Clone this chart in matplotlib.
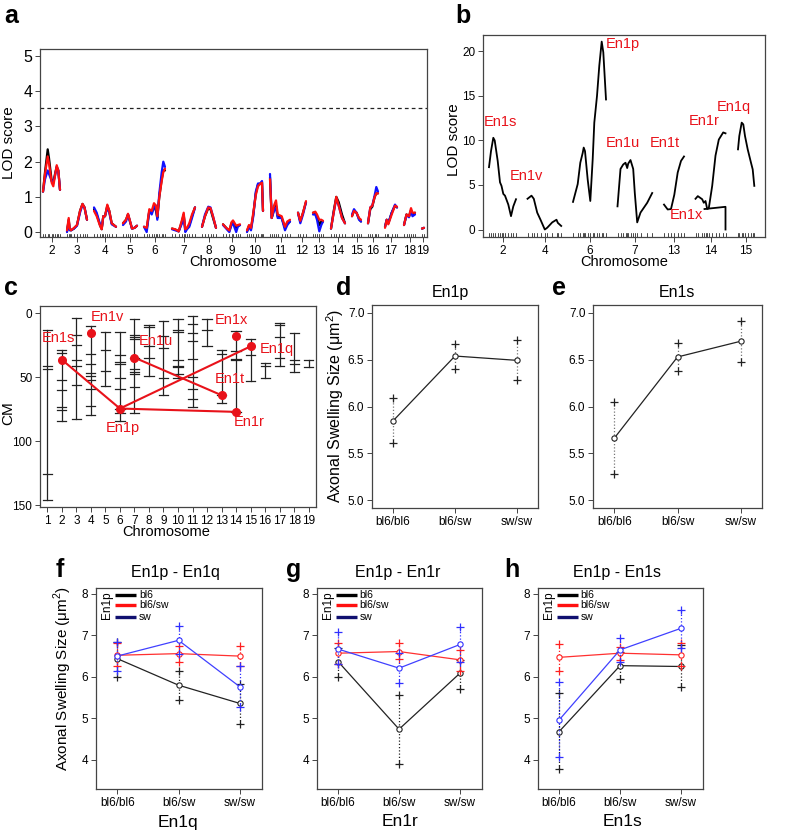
import matplotlib
matplotlib.use('Agg')
import matplotlib.pyplot as plt
import matplotlib.transforms as mtransforms
import numpy as np

plt.rcParams['font.family'] = ['Liberation Sans', 'DejaVu Sans']
plt.rcParams['mathtext.fontset'] = 'custom'
plt.rcParams['mathtext.rm'] = 'Liberation Sans'

# ---------------- DATA ----------------
# Panel a: genome scan (three models)
a_chroms = ['2', '3', '4', '5', '6', '7', '8', '9', '10', '11', '12', '13', '14', '15', '16', '17', '18', '19']
a_len = [17, 20, 22, 14, 21, 23, 14, 17, 16, 21, 8, 11, 14, 9, 10, 12, 11, 2]
a_pos = [
    [0, 2, 4.7, 6, 8.7, 10.3, 12, 13.7, 15.3, 17],
    [0, 1.7, 2.7, 4, 7, 10, 13, 15.5, 17.5, 20],
    [0, 2.7, 6, 7.7, 9.3, 11, 13.3, 15.3, 17.7, 22],
    [0, 3, 5, 7, 9, 11.5, 14],
    [0, 2.7, 5.3, 7.7, 10, 12, 13.3, 15.3, 17.7, 19.3, 21],
    [0, 3.3, 6.7, 10, 11.7, 13.3, 15, 17.3, 20, 23],
    [0, 3, 6.3, 8.5, 11, 14],
    [0, 3.2, 6.3, 8.5, 10, 13.2, 14.8, 17],
    [0, 2, 4, 6.3, 8.8, 11, 13.5, 15, 16],
    [0, 1.7, 4, 6, 7.7, 11.7, 15, 17.3, 20],
    [0, 2.3, 5, 8],
    [0, 2.3, 4, 6.3, 8.3, 10],
    [0, 2.7, 5.3, 7.7, 11, 14],
    [0, 2, 4.5, 7, 9],
    [0, 2.3, 4.3, 6.7, 8.3, 10],
    [0, 1.7, 3.3, 6.7, 10, 12],
    [0, 2.5, 5, 7, 8.5, 11],
    [0, 2],
]
a_lod_black = [
    [1.15, 1.7, 2.35, 2.1, 1.45, 1.4, 1.65, 1.85, 1.75, 1.2],
    [0.02, 0.35, 0.1, 0.05, 0.1, 0.2, 0.6, 0.8, 0.7, 0.35],
    [0.65, 0.5, 0.2, 0.08, 0.45, 0.45, 0.75, 0.6, 0.25, 0.15],
    [0.25, 0.35, 0.5, 0.3, 0.1, 0.12, 0.18],
    [0.15, 0.08, 0.6, 0.55, 0.75, 0.6, 0.4, 1.0, 1.5, 1.75, 1.75],
    [0.1, 0.07, 0.02, 0.3, 0.5, 0.05, 0.1, 0.2, 0.45, 0.7],
    [0.15, 0.45, 0.68, 0.65, 0.4, 0.12],
    [0.22, 0.12, 0.03, 0.25, 0.3, 0.12, 0.18, 0.2],
    [0.02, 0.18, 0.1, 0.5, 1.1, 1.35, 1.38, 1.42, 0.6],
    [1.55, 0.4, 0.65, 0.75, 0.45, 0.4, 0.12, 0.25, 0.3],
    [0.55, 0.3, 0.55, 0.85],
    [0.55, 0.55, 0.45, 0.2, 0.3, 0.3],
    [0.1, 0.6, 1.0, 0.85, 0.5, 0.25],
    [0.45, 0.6, 0.55, 0.38, 0.3],
    [0.25, 0.65, 0.72, 1.0, 1.1, 1.1],
    [0.15, 0.35, 0.25, 0.55, 0.75, 0.7],
    [0.2, 0.5, 0.45, 0.62, 0.5, 0.55],
    [0.1, 0.12],
]
a_lod_blue = [
    [1.15, 1.5, 1.75, 1.65, 1.45, 1.4, 1.6, 1.85, 1.75, 1.2],
    [0.0, 0.3, 0.05, 0.05, 0.1, 0.18, 0.55, 0.78, 0.7, 0.35],
    [0.7, 0.55, 0.22, 0.1, 0.45, 0.45, 0.7, 0.55, 0.22, 0.15],
    [0.2, 0.3, 0.5, 0.3, 0.1, 0.12, 0.18],
    [0.15, 0.0, 0.6, 0.5, 0.7, 0.75, 0.35, 1.1, 1.7, 2.0, 1.85],
    [0.08, 0.05, 0.02, 0.25, 0.45, 0.0, 0.08, 0.15, 0.4, 0.7],
    [0.15, 0.5, 0.72, 0.7, 0.45, 0.12],
    [0.2, 0.1, 0.0, 0.2, 0.25, 0.0, 0.15, 0.2],
    [0.0, 0.15, 0.05, 0.45, 1.15, 1.38, 1.38, 1.45, 0.6],
    [1.65, 0.4, 0.6, 0.7, 0.4, 0.4, 0.05, 0.2, 0.3],
    [0.55, 0.25, 0.5, 0.85],
    [0.5, 0.5, 0.35, 0.02, 0.2, 0.3],
    [0.1, 0.55, 0.95, 0.75, 0.4, 0.25],
    [0.5, 0.65, 0.55, 0.35, 0.3],
    [0.25, 0.7, 0.75, 1.05, 1.28, 1.15],
    [0.15, 0.35, 0.25, 0.55, 0.78, 0.7],
    [0.2, 0.48, 0.42, 0.6, 0.45, 0.5],
    [0.1, 0.12],
]
a_lod_red = [
    [1.15, 1.65, 2.15, 1.95, 1.4, 1.3, 1.6, 1.9, 1.75, 1.2],
    [0.05, 0.4, 0.1, 0.05, 0.12, 0.2, 0.6, 0.8, 0.7, 0.35],
    [0.6, 0.45, 0.18, 0.08, 0.45, 0.45, 0.78, 0.6, 0.25, 0.15],
    [0.25, 0.35, 0.52, 0.32, 0.1, 0.12, 0.18],
    [0.15, 0.12, 0.65, 0.6, 0.82, 0.75, 0.45, 1.0, 1.45, 1.7, 1.8],
    [0.1, 0.08, 0.02, 0.35, 0.55, 0.08, 0.12, 0.25, 0.5, 0.7],
    [0.15, 0.45, 0.7, 0.68, 0.45, 0.12],
    [0.22, 0.12, 0.05, 0.28, 0.33, 0.18, 0.2, 0.22],
    [0.05, 0.2, 0.12, 0.55, 1.05, 1.3, 1.38, 1.4, 0.6],
    [1.5, 0.4, 0.75, 0.9, 0.5, 0.45, 0.15, 0.3, 0.35],
    [0.55, 0.32, 0.55, 0.88],
    [0.55, 0.58, 0.5, 0.35, 0.35, 0.32],
    [0.1, 0.55, 1.0, 0.75, 0.4, 0.25],
    [0.45, 0.6, 0.55, 0.4, 0.35],
    [0.25, 0.7, 0.75, 1.0, 1.1, 1.1],
    [0.12, 0.35, 0.22, 0.5, 0.75, 0.72],
    [0.2, 0.5, 0.45, 0.68, 0.55, 0.55],
    [0.1, 0.12],
]
a_threshold = 3.53

# Panel b: conditional scans on selected chromosomes
b_chroms = ['2', '4', '6', '7', '13', '14', '15']
b_len = [27, 34, 33, 35, 20, 31, 16]
b_pos = [
    [0, 2, 4.3, 5.7, 8.7, 11, 12.5, 14.3, 16, 19.3, 22, 24.3, 27],
    [0, 4, 6.3, 9.7, 13, 17.3, 19.7, 24.7, 29, 30.3, 33.7],
    [0, 4.7, 7.3, 9.7, 10.7, 12, 14.7, 17.3, 19.7, 21.3, 24, 26.3, 28.7, 30.3, 33],
    [0, 3, 5.7, 8, 9.7, 10.7, 13, 15.7, 17.3, 19.7, 23, 29.7, 34.7],
    [0, 3.7, 7, 10.3, 13.7, 17, 20],
    [0, 2.3, 6.7, 8.3, 10, 11.7, 13.3, 16.7, 20, 23.3, 27.7, 30],
    [0, 1.3, 3.7, 5.3, 7, 9.7, 13, 14.7, 16.3],
]
b_lod = [
    [7.0, 8.8, 10.3, 10.0, 7.7, 5.3, 4.9, 4.0, 3.8, 2.8, 1.5, 2.6, 3.4],
    [3.45, 3.8, 3.45, 1.9, 1.1, 0.0, 0.2, 0.8, 1.1, 0.75, 0.4],
    [3.1, 5.1, 7.5, 8.6, 9.2, 8.8, 5.6, 3.2, 7.9, 12.0, 15.0, 18.4, 21.1, 19.9, 14.6],
    [2.6, 6.8, 7.3, 7.5, 6.9, 7.4, 7.8, 6.8, 4.1, 0.8, 1.9, 3.0, 4.1],
    [2.8, 2.25, 2.3, 3.9, 6.4, 7.7, 8.2],
    [3.45, 3.75, 3.4, 3.0, 3.2, 2.3, 2.4, 4.9, 8.3, 10.1, 10.9, 10.8],
    [9.0, 10.5, 12.0, 11.8, 10.5, 9.0, 7.5, 6.75, 4.9],
]
b_chr14_tail_pos = [9, 30, 30]
b_chr14_tail_lod = [2.3, 2.55, 0.0]
b_qtl_names = ['En1s', 'En1v', 'En1p', 'En1u', 'En1t', 'En1r', 'En1q', 'En1x']
b_qtl_xy = [(0.5, 12.1), (27, 6.0), (123, 20.8), (123, 9.7), (167, 9.7), (206, 12.2), (234, 13.8), (187, 1.6)]

# Panel c: marker intervals per chromosome (cM) and QTL positions
c_markers = [
    [13, 41, 44, 126, 146],
    [29, 31, 52.5, 60, 73, 76, 84.5],
    [4, 17, 25, 37, 41, 56, 83],
    [10, 32, 39.5, 47, 49.5, 52.5, 59.5, 72.5, 80],
    [15, 29, 45.5, 57],
    [15, 33, 38, 39.5, 50.5, 59, 74.6, 78, 84],
    [5, 17.5, 19, 20.5, 34.8, 44, 46, 47.5, 58, 78],
    [9, 11, 26, 35, 49],
    [6, 18, 27, 50.5, 64],
    [4.5, 13.5, 15, 36.5, 41.5, 42, 47.5, 51],
    [2, 8.5, 15.5, 22, 36, 50, 59, 67.5, 73],
    [5, 13.5, 25.5],
    [28.5, 32, 64.2, 70],
    [14, 30, 35.6, 36.4, 77.5],
    [20, 32.5, 53.3],
    [39, 41.5, 50.5],
    [7.5, 9.5, 18.7, 35, 41.5],
    [15.5, 36.5, 39.5, 46],
    [37, 42],
]
c_qtl_names = ['En1s', 'En1v', 'En1p', 'En1u', 'En1t', 'En1x', 'En1r', 'En1q']
c_qtl_chr = [2, 4, 6, 7, 13, 14, 14, 15]
c_qtl_cm = [36.4, 15.6, 74.6, 34.8, 64.2, 18.2, 77.2, 26.0]
c_links = [('En1s', 'En1p'), ('En1p', 'En1q'), ('En1p', 'En1r'), ('En1u', 'En1t')]
c_label_xy = {'En1s': (0.6, 19.5), 'En1v': (4.0, 3.1), 'En1p': (5.0, 89.8), 'En1u': (7.3, 21.9),
              'En1t': (12.5, 51.6), 'En1x': (12.5, 5.5), 'En1r': (13.85, 85.2), 'En1q': (15.6, 28.1)}

# Panels d, e: single-locus effects
genotypes = ['bl6/bl6', 'bl6/sw', 'sw/sw']
d_mean = [5.847, 6.537, 6.491]
d_upper = [6.089, 6.669, 6.705]
d_lower = [5.612, 6.399, 6.278]
e_mean = [5.665, 6.527, 6.694]
e_upper = [6.043, 6.676, 6.911]
e_lower = [5.281, 6.374, 6.473]

# Panels f, g, h: two-locus interactions (lines = En1p genotype)
en1p_groups = ['bl6', 'bl6/sw', 'sw']
f_mean = {'bl6': [6.44, 5.80, 5.36], 'bl6/sw': [6.52, 6.56, 6.50], 'sw': [6.50, 6.88, 5.76]}
f_upper = {'bl6': [6.85, 6.14, 5.84], 'bl6/sw': [6.82, 6.74, 6.74], 'sw': [6.84, 7.22, 6.26]}
f_lower = {'bl6': [6.00, 5.44, 4.86], 'bl6/sw': [6.26, 6.36, 6.26], 'sw': [6.14, 6.56, 5.28]}
g_mean = {'bl6': [6.37, 4.74, 6.09], 'bl6/sw': [6.57, 6.61, 6.41], 'sw': [6.67, 6.21, 6.78]}
g_upper = {'bl6': [6.70, 5.56, 6.41], 'bl6/sw': [6.82, 6.81, 6.65], 'sw': [7.08, 6.57, 7.21]}
g_lower = {'bl6': [6.00, 3.90, 5.72], 'bl6/sw': [6.30, 6.42, 6.13], 'sw': [6.30, 5.85, 6.37]}
h_mean = {'bl6': [4.68, 6.27, 6.25], 'bl6/sw': [6.47, 6.57, 6.53], 'sw': [4.96, 6.65, 7.17]}
h_upper = {'bl6': [5.60, 6.60, 6.77], 'bl6/sw': [6.78, 6.73, 6.82], 'sw': [5.87, 6.93, 7.62]}
h_lower = {'bl6': [3.78, 5.94, 5.76], 'bl6/sw': [6.15, 6.40, 6.25], 'sw': [4.06, 6.37, 6.69]}

# ---------------- FIGURE ----------------
W, H = 787, 832
fig = plt.figure(figsize=(W / 100, H / 100), dpi=100)
SP = '#444444'
RED = '#E8121A'


def add_ax(l, t, r, b):
    ax = fig.add_axes([l / W, 1 - b / H, (r - l) / W, (b - t) / H])
    for s in ax.spines.values():
        s.set_color(SP)
        s.set_linewidth(0.9)
    ax.tick_params(length=3.5, width=0.7, color=SP, pad=2)
    return ax


def ftext(x, y, s, **kw):
    fig.text(x / W, 1 - y / H, s, **kw)


def letter(x, y, s):
    ftext(x, y, s, fontsize=18, fontweight='bold', ha='left', va='baseline')


ylab_swell = 'Axonal Swelling Size (\u03bcm$^2$)'

# ---- panel a ----
ax = add_ax(40, 49, 427, 237)
off = 3.0
centers = []
rug = []
for i, ch in enumerate(a_chroms):
    x = off + np.array(a_pos[i])
    ax.plot(x, a_lod_black[i], color='black', lw=1.6, solid_capstyle='round')
    ax.plot(x, a_lod_blue[i], color='#1010FF', lw=1.6, solid_capstyle='round')
    ax.plot(x, a_lod_red[i], color='#FF1010', lw=1.6, solid_capstyle='round')
    rug.extend(list(x))
    centers.append(off + a_len[i] / 2)
    off += a_len[i] + 7
trans = mtransforms.blended_transform_factory(ax.transData, ax.transAxes)
for rx in rug:
    ax.plot([rx, rx], [0, 0.018], color='black', lw=0.5, transform=trans)
ax.axhline(a_threshold, color='#222222', lw=0.9, ls=(0, (3, 2.5)))
ax.set_xlim(0, 387)
ax.set_ylim(-0.14, 5.2)
ax.set_yticks([0, 1, 2, 3, 4, 5])
ax.tick_params(axis='y', labelsize=11.5)
ax.set_xticks(centers)
ax.set_xticklabels(a_chroms, fontsize=8.5)
ftext(9, 143, 'LOD score', rotation=90, ha='center', va='center', fontsize=11)
ftext(233, 262, 'Chromosome', ha='center', va='center', fontsize=10.5)
letter(4, 23, 'a')

# ---- panel b ----
ax = add_ax(483, 35, 765, 237)
off = 6.0
centers = []
rug = []
for i, ch in enumerate(b_chroms):
    x = off + np.array(b_pos[i])
    ax.plot(x, b_lod[i], color='black', lw=1.3)
    if ch == '14':
        ax.plot(off + np.array(b_chr14_tail_pos), b_chr14_tail_lod, color='black', lw=1.3)
    rug.extend(list(x))
    centers.append(off + b_len[i] / 2)
    off += b_len[i] + 11.5
trans = mtransforms.blended_transform_factory(ax.transData, ax.transAxes)
for rx in rug:
    ax.plot([rx, rx], [0, 0.02], color='black', lw=0.5, transform=trans)
for name, (tx, ty) in zip(b_qtl_names, b_qtl_xy):
    ax.text(tx, ty, name, color=RED, fontsize=10.5, ha='left', va='center')
ax.set_xlim(0, 282)
ax.set_ylim(-0.84, 21.84)
ax.set_yticks([0, 5, 10, 15, 20])
ax.tick_params(axis='y', labelsize=8.5)
ax.set_xticks(centers)
ax.set_xticklabels(b_chroms, fontsize=8.5)
ftext(454, 140, 'LOD score', rotation=90, ha='center', va='center', fontsize=11)
ftext(624, 262, 'Chromosome', ha='center', va='center', fontsize=10.5)
letter(455, 23, 'b')

# ---- panel c ----
ax = add_ax(40, 306, 316, 507)
for i, m in enumerate(c_markers):
    chn = i + 1
    ax.plot([chn, chn], [min(m), max(m)], color='#222222', lw=0.9)
    for v in m:
        ax.plot([chn - 0.32, chn + 0.32], [v, v], color='#222222', lw=0.9)
qmap = {n: (c, v) for n, c, v in zip(c_qtl_names, c_qtl_chr, c_qtl_cm)}
for a1, a2 in c_links:
    ax.plot([qmap[a1][0], qmap[a2][0]], [qmap[a1][1], qmap[a2][1]], color=RED, lw=1.5)
ax.plot(c_qtl_chr, c_qtl_cm, 'o', color=RED, ms=5.5, ls='none')
for n in c_qtl_names:
    tx, ty = c_label_xy[n]
    ax.text(tx, ty, n, color=RED, fontsize=10.5, ha='left', va='center')
ax.set_xlim(0.5, 19.5)
ax.set_ylim(151.5, -5.5)
ax.set_yticks([0, 50, 100, 150])
ax.set_xticks(range(1, 20))
ax.tick_params(labelsize=8.5)
ftext(8, 413, 'CM', rotation=90, ha='center', va='center', fontsize=11)
ftext(166, 532, 'Chromosome', ha='center', va='center', fontsize=10.5)
letter(4, 295, 'c')


def means_plot(ax, mean, up, low, color, lcolor, lw=0.9, dot='#777777'):
    x = np.arange(1, len(mean) + 1)
    for xi, u, l in zip(x, up, low):
        ax.plot([xi, xi], [l, u], ls=(0, (1, 1.6)), color=dot, lw=0.9)
    ax.plot(x, up, '+', color=color, ms=6, mew=0.9, ls='none')
    ax.plot(x, low, '+', color=color, ms=6, mew=0.9, ls='none')
    ax.plot(x, mean, '-', color=lcolor, lw=lw, marker='o', ms=3.8,
            mfc='white', mec=color, mew=0.8)


# ---- panels d, e ----
for (l, r, mean, up, low, title, tx, let, lx) in [
        (372, 538, d_mean, d_upper, d_lower, 'En1p', 450, 'd', 336),
        (593, 762, e_mean, e_upper, e_lower, 'En1s', 677, 'e', 552)]:
    ax = add_ax(l, 305, r, 508)
    means_plot(ax, mean, up, low, '#222222', '#222222')
    ax.set_xlim(0.66, 3.34)
    ax.set_ylim(4.92, 7.08)
    ax.set_yticks([5.0, 5.5, 6.0, 6.5, 7.0])
    ax.set_yticklabels(['5.0', '5.5', '6.0', '6.5', '7.0'])
    ax.set_xticks([1, 2, 3])
    ax.set_xticklabels(genotypes)
    ax.tick_params(labelsize=8.5)
    ftext(tx, 297, title, ha='center', va='baseline', fontsize=11.5)
    letter(lx, 295, let)
ftext(335, 406, ylab_swell, rotation=90, ha='center', va='center', fontsize=11.5)

# ---- panels f, g, h ----
cols = {'bl6': ('#222222', '#222222'), 'bl6/sw': ('#FF2020', '#FF3030'), 'sw': ('#3030FF', '#4040FF')}
leg_cols = {'bl6': 'black', 'bl6/sw': '#FF1010', 'sw': '#101070'}
panels = [
    (96, 262, f_mean, f_upper, f_lower, 'En1p - En1q', 175, 'En1q', 178, 'f', 56),
    (317, 482, g_mean, g_upper, g_lower, 'En1p - En1r', 398, 'En1r', 400, 'g', 286),
    (538, 703, h_mean, h_upper, h_lower, 'En1p - En1s', 617, 'En1s', 622, 'h', 504),
]
for (l, r, mean, up, low, title, tx, xl, xlx, let, lx) in panels:
    ax = add_ax(l, 588, r, 789)
    for grp in en1p_groups:
        c, lc = cols[grp]
        means_plot(ax, mean[grp], up[grp], low[grp], c, lc, lw=0.9, dot=c)
    ax.set_xlim(0.655, 3.36)
    ax.set_ylim(3.30, 8.14)
    ax.set_yticks([4, 5, 6, 7, 8])
    ax.set_xticks([1, 2, 3])
    ax.set_xticklabels(genotypes)
    ax.tick_params(labelsize=8.5)
    # legend (drawn like R's interaction.plot)
    ys = [0.965, 0.913, 0.858]
    for grp, yy in zip(en1p_groups, ys):
        ax.plot([0.114, 0.241], [yy, yy], color=leg_cols[grp], lw=2.4, transform=ax.transAxes,
                solid_capstyle='butt')
        ax.text(0.259, yy, grp, transform=ax.transAxes, fontsize=7.5, ha='left', va='center')
    ax.text(0.066, 0.913, 'En1p', transform=ax.transAxes, rotation=90, fontsize=8.5,
            ha='center', va='center')
    ftext(tx, 577, title, ha='center', va='baseline', fontsize=11.5)
    ftext(xlx, 822, xl, ha='center', va='center', fontsize=12.5)
    letter(lx, 577, let)
ftext(63, 678, ylab_swell, rotation=90, ha='center', va='center', fontsize=11)

fig.savefig('out.png', dpi=100)
